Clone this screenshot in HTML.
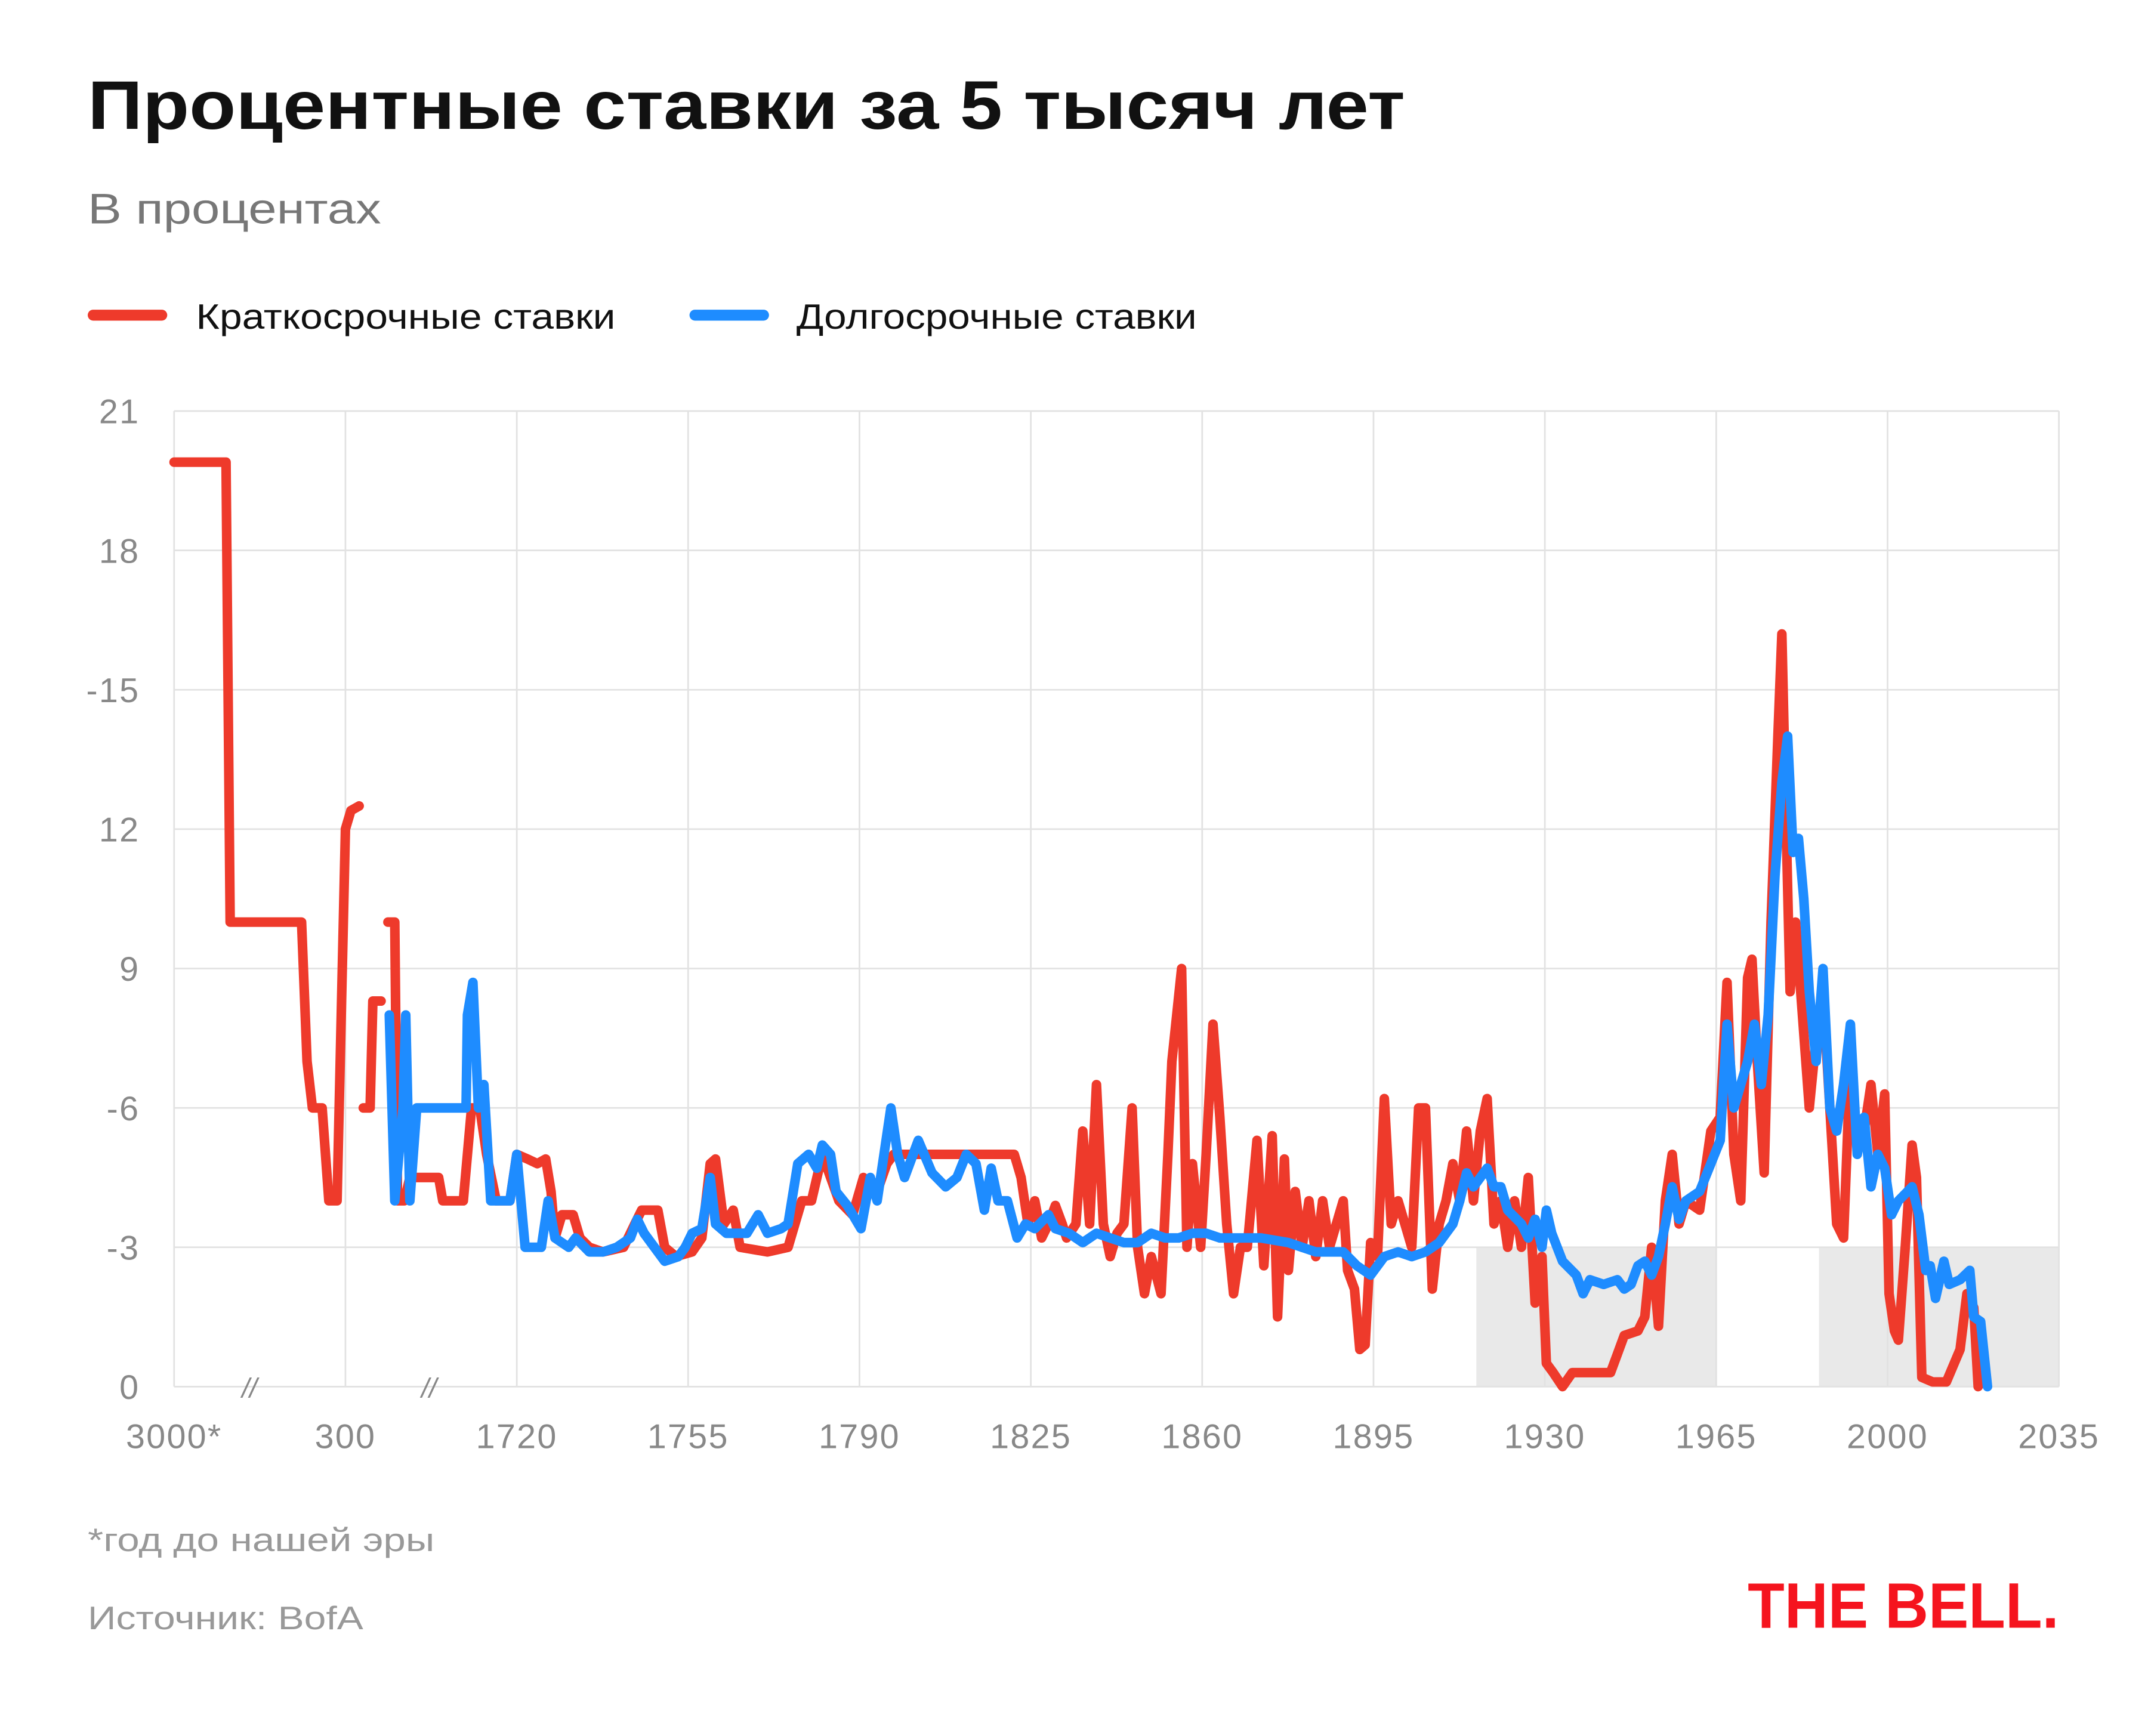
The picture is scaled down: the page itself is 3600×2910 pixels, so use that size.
<!DOCTYPE html>
<html><head><meta charset="utf-8">
<style>
html,body{margin:0;padding:0;background:#fff;}
svg{display:block;}
text{font-family:"Liberation Sans","DejaVu Sans",sans-serif;}
</style></head>
<body>
<svg id="chart" width="3600" height="2910" viewBox="0 0 1567 1267" preserveAspectRatio="none" xmlns="http://www.w3.org/2000/svg">
<rect width="1567" height="1267" fill="#fff"/>
<text x="64" y="94" font-size="50" font-weight="bold" fill="#111" textLength="961" lengthAdjust="spacingAndGlyphs">Процентные ставки за 5 тысяч лет</text>
<text x="64" y="163" font-size="31" fill="#777" textLength="214" lengthAdjust="spacingAndGlyphs">В процентах</text>
<g>
<line x1="68" y1="230" x2="118" y2="230" stroke="#ee3a2b" stroke-width="8" stroke-linecap="round"/>
<text x="143" y="240" font-size="26" fill="#111" textLength="306" lengthAdjust="spacingAndGlyphs">Краткосрочные ставки</text>
<line x1="507" y1="230" x2="557" y2="230" stroke="#1e8cff" stroke-width="8" stroke-linecap="round"/>
<text x="581" y="240" font-size="26" fill="#111" textLength="292" lengthAdjust="spacingAndGlyphs">Долгосрочные ставки</text>
</g>
<g id="plot"></g>
<text x="64" y="1132" font-size="24" fill="#999" textLength="253" lengthAdjust="spacingAndGlyphs">*год до нашей эры</text>
<text x="64" y="1189" font-size="24" fill="#999" textLength="201" lengthAdjust="spacingAndGlyphs">Источник: BofA</text>
<text x="1275" y="1188" font-size="47" font-weight="bold" fill="#f5141e" textLength="227" lengthAdjust="spacingAndGlyphs">THE BELL.</text>
</svg>
<script>
const yTicks=[0,3,6,9,12,15,18,21];
const yTickLabels=["0","-3","-6","9","12","-15","18","21"];
const xTickYears=[-3000,300,1720,1755,1790,1825,1860,1895,1930,1965,2000,2035];
const xTickLabels=["3000*","300","1720","1755","1790","1825","1860","1895","1930","1965","2000","2035"];
const shadeStart=[1916,1986];
const shadeEnd=[1965,2035];
const shadeTop=3;
const shortYears=[-3000,-2000,-1920,-545,-440,-335,-150,-20,140,300,345,414,null,448,505,527,595,null,652,709,732,789,834,880,936,1073,1107,1277,1345,1413,1470,1550,1663,1720,
1722.2,1724.2,1725.9,1727,1727.8,1729.2,1731.5,1732.9,1734.8,1737.6,1741.8,1744.1,1745.5,1748.8,1750.2,1752.5,1755.8,1757.8,1759.5,1760.6,1762.3,1764.2,1765.6,1771.2,1775.4,1776.8,1778.2,1780.2,1782.4,1785.8,1788.6,1790.8,1793.6,1795.6,1797,1821.6,1823,1824.4,1825.8,1827.2,1828.6,1830,1831.4,1832.3,1834.2,1835.6,1837,1838.4,1839.8,1841.2,1842.6,1844,1845.7,1846.8,1848.2,1849.6,1851.6,1853,1853.8,1855.8,1856.9,1858,1859.7,1860.8,1862.2,1863.6,1865,1866.4,1867.8,1869.2,1871.2,1872.6,1874.3,1875.4,1876.8,1877.6,1879,1880.4,1881.8,1883.2,1884.6,1886,1888.8,1889.7,1891.1,1892.2,1893.3,1894.4,1895.8,1897.2,1898.6,1900,1901.4,1902.8,1904.2,1905.6,1907,1908.4,1909.8,1911.2,1912.6,1914,1915.4,1916.8,1918.2,1919.6,1921,1922.4,1923.8,1925.2,1926.6,1928,1929.4,1930.3,1931.7,1933.6,1935.6,1943.4,1944.8,1946.2,1949,1950.4,1951.8,1953.2,1954.6,1956,1957.4,1958.8,1961.6,1963.9,1965.8,1967.2,1968.6,1970,1971.4,1972.3,1973.4,1974.8,1976.2,1977.6,1978.4,1979.3,1980.1,1981.2,1982.6,1984,1985.4,1986.8,1988.2,1989.6,1991,1992.4,1993.8,1995.2,1996.6,1998,1999.4,2000.3,2001.4,2002.2,2003.6,2005,2005.9,2007,2009.2,2012,2014.8,2016.2,2017.6,2018.5];
const shortRates=[19.9,19.9,10,10,7,6,6,4,4,12,12.4,12.5,null,6,6,8.3,8.3,null,10,10,4,4,4.5,4.5,4.5,4.5,4,4,6,6,5,4,4,5,
4.9,4.8,4.9,4.2,3.2,3.7,3.7,3.2,3,2.9,3,3.5,3.8,3.8,3,2.8,2.9,3.2,4.8,4.9,3.5,3.8,3,2.9,3,3.5,4,4,5,4,3.7,4.5,4.2,4.8,5,5,4.5,3.5,4,3.2,3.5,3.9,3.5,3.2,3.5,5.5,3.5,6.5,3.5,2.8,3.3,3.5,6,3,2,2.8,2,5,7,9,3,4.8,3,5,7.8,5.8,3.5,2,3,3,5.3,2.6,5.4,1.5,4.9,2.5,4.2,3,4,2.8,4,3,4,2.5,2.1,0.8,0.9,3.1,2.8,6.2,3.5,4,3.5,3,6,6,2.1,3.5,4,4.8,4,5.5,4,5.5,6.2,3.5,4,3,4,3,4.5,1.8,2.8,0.5,0.3,0,0.3,0.3,0.7,1.1,1.2,1.5,3,1.3,4,5,3.5,4,3.8,5.5,5.8,8.7,5,4,8.8,9.2,7,4.6,10,14,16.2,12,8.5,10,8,6,7.5,8.5,6,3.5,3.2,7,5.3,5.5,6.5,5,6.3,2,1.2,1,3,5.2,4.5,0.2,0.1,0.1,0.8,2,1.7,0];
const longYears=[664,709,777,800,834,891,1300,1311,1357,1402,1447,1504,1663,1720,
1721.7,1725,1726.4,1727.8,1730.6,1732,1734.8,1737.6,1740.4,1743.2,1744.6,1746,1747.4,1750.2,1753,1754.4,1755.8,1757.8,1759.5,1760.6,1762.8,1767,1769.3,1771.2,1774,1775.4,1777.4,1779.6,1781.3,1782.4,1784.1,1785.2,1787.5,1790.3,1792.2,1793.6,1795,1796.4,1797.8,1799.2,1802,1804.8,1807.6,1809.9,1811.8,1813.8,1815.5,1816.9,1818.3,1820.2,1822.2,1823.9,1825.8,1828.6,1830,1832.8,1835.6,1838.4,1841.2,1844,1846.8,1849.6,1852.4,1855.2,1858,1860.8,1863.6,1872,1877.6,1883.2,1888.8,1891.6,1894.4,1897.2,1900,1902.8,1905.6,1908.4,1911.2,1912.6,1914,1915.4,1916.8,1918.2,1919.6,1921,1922.4,1925.2,1926.6,1928,1929.4,1930.3,1931.4,1933.6,1936.4,1937.8,1939.2,1942,1944.8,1946.2,1947.6,1949,1950.4,1951.8,1953.2,1954.6,1956,1957.4,1958.8,1961.6,1963.9,1965.8,1967.2,1968.6,1970,1971.4,1972.8,1974.2,1975.6,1977,1978.4,1979.6,1980.7,1981.8,1982.9,1984,1985.4,1986.8,1988.2,1989.6,1991,1992.4,1993.8,1995.2,1996.6,1998,1999.4,2000.8,2002.2,2005,2006.4,2007.8,2008.7,2009.8,2011.5,2012.6,2014.8,2016.8,2017.6,2019,2020.4];
const longRates=[8,4,6,8,4,6,6,8,8.7,6,6.5,4,4,5,
3,3,4,3.2,3,3.2,2.9,2.9,3,3.2,3.6,3.3,3.1,2.7,2.8,3,3.3,3.4,4.5,3.5,3.3,3.3,3.7,3.3,3.4,3.5,4.8,5,4.7,5.2,5,4.2,3.9,3.4,4.5,4,5,6,5,4.5,5.3,4.6,4.3,4.5,5,4.8,3.8,4.7,4,4,3.2,3.5,3.4,3.7,3.4,3.3,3.1,3.3,3.2,3.1,3.1,3.3,3.2,3.2,3.3,3.3,3.2,3.2,3.1,2.9,2.9,2.6,2.4,2.8,2.9,2.8,2.9,3.1,3.5,4,4.6,4.3,4.5,4.7,4.3,4.3,3.8,3.5,3.2,3.6,3,3.8,3.3,2.7,2.4,2,2.3,2.2,2.3,2.1,2.2,2.6,2.7,2.4,2.8,3.5,4.3,3.6,4,4.2,4.8,5.3,7.8,6,6.5,7,7.8,6.5,8,11,13,14,11.5,11.8,10.5,8.5,7,9,6,5.5,6.5,7.8,5,5.8,4.3,5,4.7,3.7,4,4.3,3.7,2.5,2.6,1.9,2.7,2.2,2.3,2.5,1.5,1.4,0];

const L=127,R=1502,T=300,B=1012;
function xScale(yr){
  if(yr<=300) return 127+(yr+3000)/3300*125;
  if(yr<=1720) return 252+(yr-300)/1420*125;
  return 377+(yr-1720)*125/35;
}
function yScale(v){return B-(v/21)*(B-T);}
const NS="http://www.w3.org/2000/svg";
const plot=document.getElementById('plot');
function mk(tag,attrs,parent){const e=document.createElementNS(NS,tag);for(const k in attrs)e.setAttribute(k,attrs[k]);(parent||plot).appendChild(e);return e;}

for(let i=0;i<shadeStart.length;i++){
  const r=mk('rect',{x:xScale(shadeStart[i]),y:yScale(shadeTop),width:xScale(shadeEnd[i])-xScale(shadeStart[i]),height:B-yScale(shadeTop),fill:'#e9e9e9'});
  
  
}
yTicks.forEach((v,i)=>{
  const g=mk('line',{x1:L,x2:R,y1:yScale(v),y2:yScale(v),stroke:'#e2e2e2','stroke-width':1.2});
  
  
  const t=mk('text',{x:102,y:yScale(v)+9,'font-size':25,fill:'#888','text-anchor':'end','letter-spacing':1});
  t.textContent=yTickLabels[i];
  
  
});
xTickYears.forEach((yr,i)=>{
  const g=mk('line',{x1:xScale(yr),x2:xScale(yr),y1:T,y2:B,stroke:'#e2e2e2','stroke-width':1.2});
  
  
  const t=mk('text',{x:xScale(yr),y:1057,'font-size':25,fill:'#888','text-anchor':'middle','letter-spacing':1});
  t.textContent=xTickLabels[i];
  
  
});
[182,313].forEach(x=>{
  const t=mk('text',{x:x,y:1020,'font-size':20,fill:'#888','text-anchor':'middle','font-style':'italic'});
  t.textContent='//';
  
  
});
function pathFrom(xs,vs){
  let d='',pen=false;
  for(let i=0;i<xs.length;i++){
    if(xs[i]===null||vs[i]===null){pen=false;continue;}
    d+=(pen?'L':'M')+xScale(xs[i]).toFixed(1)+' '+yScale(vs[i]).toFixed(1)+' ';
    pen=true;
  }
  return d;
}
const sp=mk('path',{d:pathFrom(shortYears,shortRates),fill:'none',stroke:'#ee3a2b','stroke-width':7,'stroke-linejoin':'round','stroke-linecap':'round'});


const lp=mk('path',{d:pathFrom(longYears,longRates),fill:'none',stroke:'#1e8cff','stroke-width':7,'stroke-linejoin':'round','stroke-linecap':'round'});


</script>
</body></html>
